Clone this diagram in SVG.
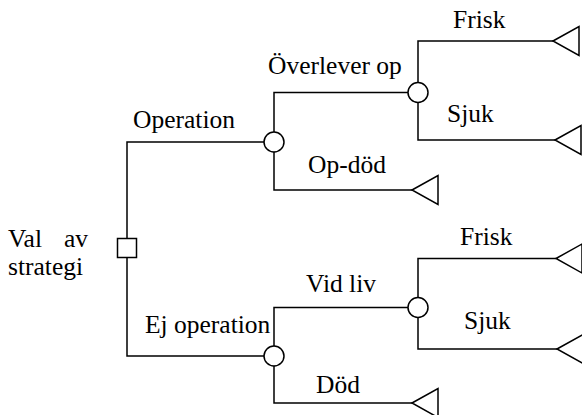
<svg xmlns="http://www.w3.org/2000/svg" width="582" height="415" viewBox="0 0 582 415">
<style>
  .c { fill: none; stroke: #000; stroke-width: 1.5; }
  .n { fill: #fff; stroke: #000; stroke-width: 1.5; }
  text { font-family: "Liberation Serif", "Times New Roman", serif; font-size: 25.5px; fill: #000; }
</style>
<defs>
  <polygon id="term" points="0,0 26,-14.5 26,14.5" class="n"/>
</defs>
<rect width="582" height="415" fill="#fff"/>
<g id="connectors">
  <path class="c" d="M127,248 V142 H274"/>
  <path class="c" d="M127,248 V356 H274"/>
  <path class="c" d="M274,142 V92.5 H418"/>
  <path class="c" d="M274,142 V190 H412"/>
  <path class="c" d="M418,92.5 V41 H553"/>
  <path class="c" d="M418,92.5 V140 H555"/>
  <path class="c" d="M274,356 V307.5 H418"/>
  <path class="c" d="M274,356 V403 H412"/>
  <path class="c" d="M418,307.5 V258.5 H556"/>
  <path class="c" d="M418,307.5 V349 H557"/>
</g>
<g id="decision">
  <rect class="n" x="117.5" y="238.5" width="19" height="19"/>
  <text x="8" y="247">Val</text>
  <text x="88" y="247" text-anchor="end">av</text>
  <text x="8" y="275">strategi</text>
</g>
<g id="chance-op"><circle class="n" cx="274" cy="142" r="10"/></g>
<g id="chance-ejop"><circle class="n" cx="274" cy="356" r="10"/></g>
<g id="chance-overlever"><circle class="n" cx="418" cy="92.5" r="10"/></g>
<g id="chance-vidliv"><circle class="n" cx="418" cy="307.5" r="10"/></g>
<g id="term-frisk1"><use href="#term" x="553" y="41"/></g>
<g id="term-sjuk1"><use href="#term" x="555" y="140"/></g>
<g id="term-opdod"><use href="#term" x="412" y="190"/></g>
<g id="term-frisk2"><use href="#term" x="556" y="258.5"/></g>
<g id="term-sjuk2"><use href="#term" x="557" y="349"/></g>
<g id="term-dod"><use href="#term" x="412" y="403"/></g>
<g id="labels">
  <text x="133" y="128">Operation</text>
  <text x="268" y="74">Överlever op</text>
  <text x="453" y="28">Frisk</text>
  <text x="447" y="122">Sjuk</text>
  <text x="308" y="173">Op-död</text>
  <text x="145" y="333">Ej operation</text>
  <text x="306" y="292">Vid liv</text>
  <text x="460" y="245">Frisk</text>
  <text x="464" y="329">Sjuk</text>
  <text x="316" y="393">Död</text>
</g>
</svg>
